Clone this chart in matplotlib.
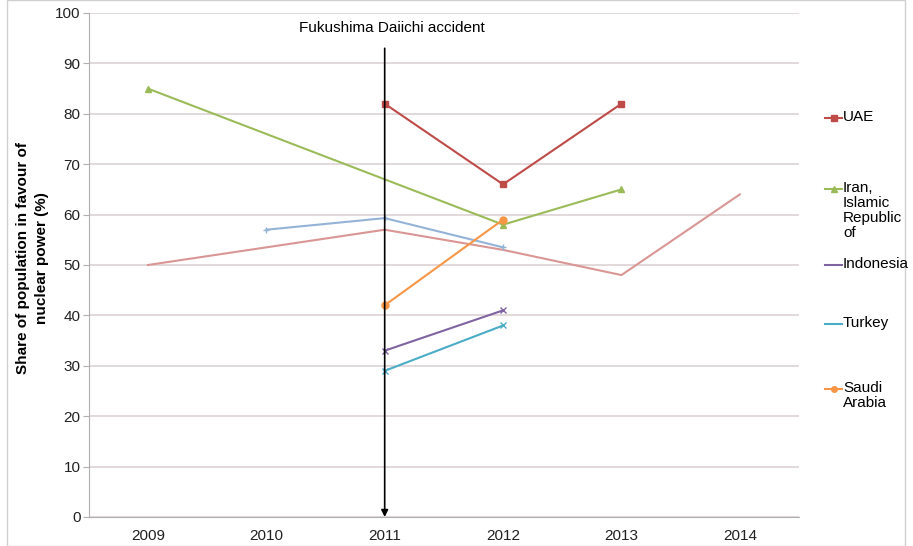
import numpy as np
import matplotlib
matplotlib.use("Agg")
import matplotlib.pyplot as plt
from matplotlib.lines import Line2D

plt.rcParams['font.family'] = ['Liberation Sans', 'DejaVu Sans']

years = ["2009", "2010", "2011", "2012", "2013", "2014"]
uae = [None, None, 82, 66, 82, None]
iran = [85, None, None, 58, 65, None]
indonesia = [None, None, 33, 41, None, None]
turkey = [None, None, 29, 38, None, None]
saudi = [None, None, 42, 59, None, None]
unlabeled_blue = [None, 57, 59.3, 53.5, None, None]
unlabeled_pink = [50, None, 57, 53, 48, 64]

fig = plt.figure(figsize=(9.13, 5.46), dpi=100)
ax = fig.add_axes([88.75/913, 29/546, (799-88.75)/913, (517-13)/546])

def plot_series(vals, color, marker, ms, mew=1.0, label=None):
    xs = [i for i, v in enumerate(vals) if v is not None]
    ys = [v for v in vals if v is not None]
    ax.plot(xs, ys, color=color, lw=1.5, marker=marker, ms=ms, mew=mew,
            label=label, zorder=3)

c_uae = '#be4b48'
c_iran = '#9bbb59'
c_indo = '#8064a2'
c_turk = '#4bacc6'
c_saudi = '#f79646'
c_lblue = '#95b3d7'
c_pink = '#d99694'

plot_series(unlabeled_pink, c_pink, None, 0)
plot_series(unlabeled_blue, c_lblue, '+', 5)
plot_series(uae, c_uae, 's', 5)
plot_series(iran, c_iran, '^', 5)
plot_series(indonesia, c_indo, 'x', 5)
plot_series(turkey, c_turk, 'x', 5)
plot_series(saudi, c_saudi, 'o', 5)

ax.set_xlim(-0.5, len(years) - 0.5)
ax.set_ylim(0, 100)
ax.set_yticks(np.arange(0, 101, 10))
ax.set_xticks(range(len(years)))
ax.set_xticklabels(years)
ax.tick_params(axis='x', which='major', length=0, labelsize=11, pad=9,
               labelcolor='#222222')
ax.tick_params(axis='y', length=4, color='#b0b0b0', labelsize=11, pad=2,
               labelcolor='#222222')
ax.grid(axis='y', color='#ddd3d3', lw=1.2, zorder=0)
ax.set_axisbelow(True)
for s in ['top', 'right']:
    ax.spines[s].set_visible(False)
for s in ['left', 'bottom']:
    ax.spines[s].set_color('#b0b0b0')

ax.set_ylabel("Share of population in favour of\nnuclear power (%)",
              fontsize=11, fontweight='bold', linespacing=1.45)
ax.yaxis.set_label_coords(-(88.75 - 49) / (799 - 88.75), 0.514)

# Fukushima arrow
ax.annotate("", xy=(2, 0), xytext=(2, 93),
            arrowprops=dict(arrowstyle='-|>', color='black', lw=1.2,
                            mutation_scale=10, shrinkA=0, shrinkB=0), zorder=4)
ax.text(2.06, 97, "Fukushima Daiichi accident", ha='center', va='center',
        fontsize=11)

# Legend (manual, Excel style)
entries = [("UAE", c_uae, 's', 118),
           ("Iran,\nIslamic\nRepublic\nof", c_iran, '^', 189),
           ("Indonesia", c_indo, None, 265),
           ("Turkey", c_turk, None, 324),
           ("Saudi\nArabia", c_saudi, 'o', 389)]
for label, col, mk, ypx in entries:
    yf = 1 - ypx / 546
    fig.add_artist(Line2D([825/913, 842/913], [yf, yf], color=col, lw=1.5))
    if mk is not None:
        fig.add_artist(Line2D([833.5/913], [yf], color=col, marker=mk, ms=4,
                              lw=0))
    fig.text(843/913, yf + 8/546, label, ha='left', va='top', fontsize=11,
             linespacing=1.1)

fig.add_artist(plt.Rectangle((7/913, 0), (905-7)/913, 1, fill=False,
                             edgecolor='#d0d0d0', lw=1, transform=fig.transFigure))

fig.savefig("out.png", dpi=100)
